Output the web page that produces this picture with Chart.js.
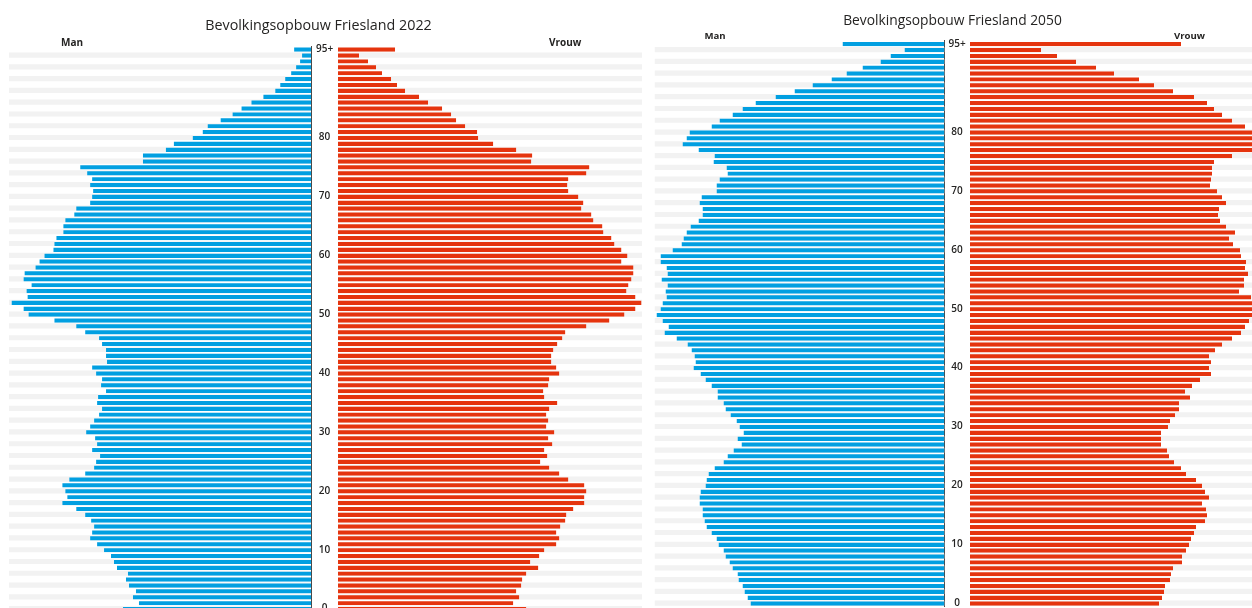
<!DOCTYPE html>
<html>
<head>
<meta charset="utf-8">
<script src="https://cdn.jsdelivr.net/npm/chart.js@4.4.1/dist/chart.umd.min.js"></script>
<style>
  html, body { margin: 0; padding: 0; background: #fff; overflow: hidden; width: 1252px; height: 608px; }
  body { position: relative; font-family: 'Open Sans', 'Noto Sans', sans-serif; color: #252423; }
  canvas { position: absolute; top: 0; z-index: 1; }
  .title { position: absolute; z-index: 5; line-height: 20px; text-align: center; white-space: nowrap; }
  .side { position: absolute; z-index: 5; font-weight: 700; line-height: 14px; white-space: nowrap; }
</style>
</head>
<body>
<canvas id="m22" width="338" height="630" style="left:0px"></canvas>
<canvas id="v22" width="304" height="630" style="left:338px"></canvas>
<canvas id="m50" width="330" height="630" style="left:640px"></canvas>
<canvas id="v50" width="290" height="630" style="left:970px"></canvas>

<div class="title" style="left:0px;width:637px;top:14.5px;font-size:14.3px">Bevolkingsopbouw Friesland 2022</div>
<div class="side" style="left:61px;top:34.8px;font-size:10px">Man</div>
<div class="side" style="left:549px;top:34.8px;font-size:10px">Vrouw</div>
<div class="title" style="left:640px;width:625px;top:9.6px;font-size:13.8px">Bevolkingsopbouw Friesland 2050</div>
<div class="side" style="left:704.5px;top:28.8px;font-size:9.6px">Man</div>
<div class="side" style="left:1174px;top:28.8px;font-size:9.6px">Vrouw</div>

<script>
// leeftijden van 0 t/m 95+ (onderaan 0, bovenaan 95+)
const ages = ['0','1','2','3','4','5','6','7','8','9','10','11','12','13','14','15','16','17','18','19',
  '20','21','22','23','24','25','26','27','28','29','30','31','32','33','34','35','36','37','38','39',
  '40','41','42','43','44','45','46','47','48','49','50','51','52','53','54','55','56','57','58','59',
  '60','61','62','63','64','65','66','67','68','69','70','71','72','73','74','75','76','77','78','79',
  '80','81','82','83','84','85','86','87','88','89','90','91','92','93','94','95+'];

// leeftijden die als label op de middenas staan
const tickLabels = ['95+', '80', '70', '60', '50', '40', '30', '20', '10', '0'];

// aantallen (geschat, zelfde eenheid per piramide), leeftijd 0 -> 95+
const man2022 = [189,173,179,176,183,186,184,195,198,201,208,215,222,220,218,221,227,236,250,245,
  247,250,243,227,218,216,212,220,215,217,226,222,218,213,210,215,214,206,211,210,
  216,220,205,206,206,210,213,227,236,258,284,289,301,285,286,281,289,288,277,273,
  268,259,258,256,249,249,247,238,236,222,220,219,222,220,225,232,169,169,146,138,
  119,109,104,91,79,70,60,48,36,31,26,20,15,11,9,17];
const vrouw2022 = [188,175,181,178,183,184,188,200,192,201,206,218,221,218,222,227,228,235,246,246,
  248,246,230,221,211,202,209,206,214,210,216,208,210,208,211,219,206,205,210,211,
  221,218,213,213,215,219,224,227,248,271,286,297,303,297,288,290,293,295,295,283,
  289,283,276,273,265,264,255,253,243,245,240,230,229,230,248,251,193,194,178,155,
  140,139,127,118,113,104,90,81,67,59,53,44,38,30,21,57];
const man2050 = [194,197,200,202,206,207,212,215,219,221,226,228,233,238,240,242,242,245,245,244,
  239,238,236,230,221,217,211,203,207,201,205,208,214,219,221,227,227,233,239,244,
  251,249,250,253,257,268,280,276,282,288,284,282,278,279,277,283,277,278,284,284,
  272,263,261,258,254,246,242,242,245,243,228,228,225,217,218,231,230,246,262,258,
  255,233,225,212,202,189,169,150,132,113,98,82,64,54,40,102];
const vrouw2050 = [189,192,194,195,200,201,203,212,212,216,219,221,224,226,235,237,236,232,239,235,
  232,226,216,211,204,199,197,191,191,191,198,200,205,209,209,220,215,222,230,241,
  239,241,239,245,252,262,271,275,279,288,287,285,281,269,274,274,278,275,276,271,
  270,263,259,265,256,250,248,249,256,252,247,240,241,242,242,244,262,285,288,289,
  287,275,262,252,244,237,224,203,184,169,144,126,106,87,71,211];

const BLUE = '#019fe1';
const RED = '#e5340e';
const BAND = '#f2f2f2';

function halfChart(id, values, opts) {
  // grijze achtergrondbalken op de even leeftijden
  const bands = ages.map((a, i) => (i % 2 === 0 ? opts.max : null));
  const isMan = opts.side === 'man';
  return new Chart(document.getElementById(id), {
    type: 'bar',
    data: {
      labels: ages,
      datasets: [
        {
          data: values,
          backgroundColor: isMan ? BLUE : RED,
          borderColor: 'rgba(255,255,255,0.35)',
          borderWidth: { top: 1, right: 0, bottom: 0, left: 0 },
          borderSkipped: false,
          grouped: false,
          order: 1,
          barPercentage: 0.88,
          categoryPercentage: 1
        },
        {
          data: bands,
          backgroundColor: BAND,
          borderWidth: 0,
          grouped: false,
          order: 2,
          barPercentage: 0.88,
          categoryPercentage: 1
        }
      ]
    },
    options: {
      indexAxis: 'y',
      responsive: false,
      animation: false,
      layout: { padding: { left: opts.padL, right: 0, top: opts.top, bottom: 630 - opts.top - opts.plotH } },
      plugins: { legend: { display: false }, tooltip: { enabled: false } },
      scales: {
        x: { display: false, reverse: isMan, min: 0, max: opts.max },
        y: {
          type: 'category',
          reverse: true,
          display: isMan,
          position: 'right',
          grid: { display: false, drawTicks: false },
          border: { display: true, color: '#4a4a4a', width: 1, dash: [2, 3.9] },
          afterBuildTicks: s => {
            s.ticks = s.ticks.filter(t => tickLabels.includes(ages[t.value]));
          },
          ticks: {
            autoSkip: false,
            padding: opts.tickPad,
            crossAlign: 'center',
            color: '#252423',
            font: { family: "'Open Sans', 'Noto Sans', sans-serif", size: 10, weight: '600' },
            callback: v => ages[v]
          },
          afterFit: s => { s.width = opts.axisW; }
        }
      }
    }
  });
}

halfChart('m22', man2022, { side: 'man', max: 303.5, padL: 9, top: 46.25, plotH: 565.3, axisW: 27, tickPad: 5 });
halfChart('v22', vrouw2022, { side: 'vrouw', max: 303.5, padL: 0, top: 46.25, plotH: 565.3, axisW: 0, tickPad: 0 });
halfChart('m50', man2050, { side: 'man', max: 290, padL: 14.5, top: 40.75, plotH: 565.4, axisW: 25.5, tickPad: 4 });
halfChart('v50', vrouw2050, { side: 'vrouw', max: 290, padL: 0, top: 40.75, plotH: 565.4, axisW: 0, tickPad: 0 });
</script>
</body>
</html>
